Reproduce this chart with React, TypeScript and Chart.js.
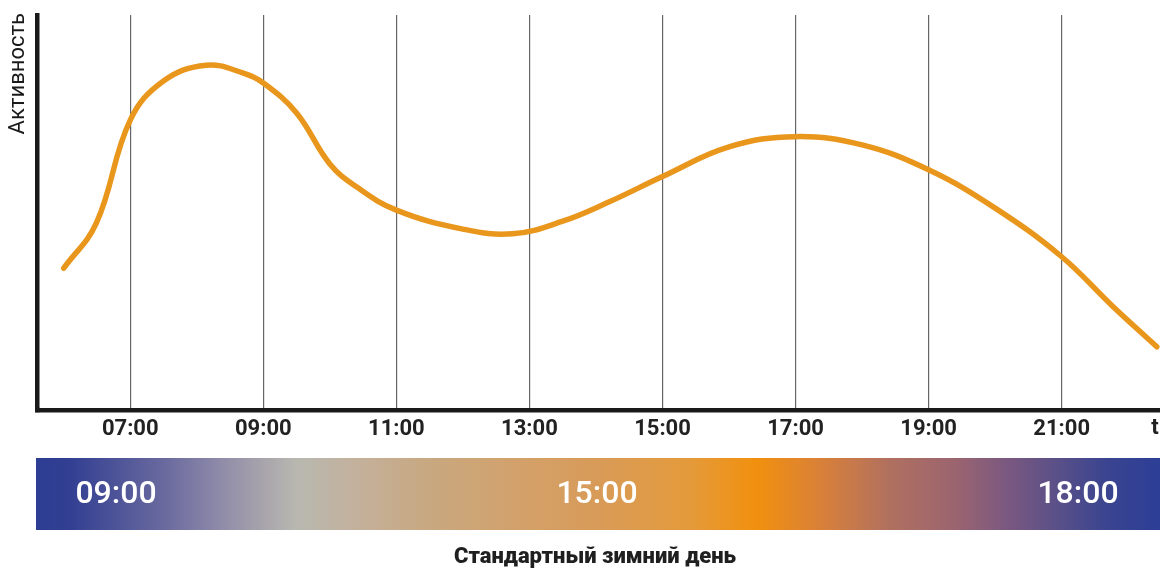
import React, { useEffect, useRef } from 'react';
import { Chart, registerables } from 'chart.js';

Chart.register(...registerables);

// Activity curve (hour of day -> relative activity, 0..100)
const hours = [6.0, 6.49, 7.0, 7.5, 8.14, 8.7, 9.0, 9.5, 10.0, 10.4, 11.0, 12.0, 12.75, 13.5, 14.2, 15.0, 16.0, 17.0, 18.0, 19.0, 20.0, 21.0, 21.77, 22.43];
const activity = [35.9, 47.3, 73.4, 83.3, 87.3, 85.3, 82.8, 75.2, 62.3, 56.5, 50.6, 45.8, 44.6, 47.8, 52.7, 59.1, 66.6, 69.2, 67.1, 60.8, 51.1, 38.8, 26.2, 16.0];
const tickHours = [7, 9, 11, 13, 15, 17, 19, 21];
const bandLabels = ['09:00', '15:00', '18:00'];
const yTitle = 'Активность';
const xUnit = 't';
const caption = 'Стандартный зимний день';

const X_MIN = 5.606;
const X_MAX = 22.478;

const fmt = (v: number) => `${v < 10 ? '0' : ''}${v}:00`;

const gradientStops: [number, string][] = [
  [0.0, '#2C3D93'],
  [0.03, '#323F92'],
  [0.115, '#6A6A9E'],
  [0.157, '#8A86A8'],
  [0.202, '#A8A4AC'],
  [0.232, '#B8B8B0'],
  [0.29, '#C4B09A'],
  [0.35, '#C8A880'],
  [0.44, '#D4A068'],
  [0.50, '#D89B58'],
  [0.582, '#E49A3A'],
  [0.641, '#F1900E'],
  [0.70, '#D8803A'],
  [0.76, '#B07060'],
  [0.82, '#9A6470'],
  [0.864, '#7A5880'],
  [0.908, '#5A5088'],
  [0.953, '#3A4490'],
  [1.0, '#2C3E96'],
];

const decorPlugin = {
  id: 'decor',
  afterDraw(chart: any) {
    const { ctx, chartArea } = chart;
    const { left, right, bottom, top } = chartArea;
    ctx.save();
    // corner fill for axis joint
    ctx.fillStyle = '#1a1a1a';
    ctx.fillRect(left - 2.25, bottom - 2.25, 4.5, 4.5);

    // y axis title (rotated)
    ctx.save();
    ctx.translate(18, top - 2);
    ctx.rotate(-Math.PI / 2);
    ctx.font = '400 22px Roboto, "Noto Sans", sans-serif';
    ctx.fillStyle = '#1a1a1a';
    ctx.textAlign = 'right';
    ctx.textBaseline = 'middle';
    ctx.fillText(yTitle, 0, 0);
    ctx.restore();

    // x unit label
    ctx.font = '700 22px Roboto, "Noto Sans", sans-serif';
    ctx.fillStyle = '#222';
    ctx.textAlign = 'center';
    ctx.textBaseline = 'middle';
    ctx.fillText(xUnit, right - 5, bottom + 18);

    // gradient band
    const bx0 = left - 1.5;
    const bx1 = right;
    const by0 = 458;
    const by1 = 530;
    const g = ctx.createLinearGradient(bx0, 0, bx1, 0);
    gradientStops.forEach(([o, c]) => g.addColorStop(o, c));
    ctx.fillStyle = g;
    ctx.fillRect(bx0, by0, bx1 - bx0, by1 - by0);

    // band labels
    const bandX = [116, 597, 1078];
    ctx.font = '500 32px Roboto, "Noto Sans", sans-serif';
    ctx.fillStyle = '#ffffff';
    ctx.textAlign = 'center';
    ctx.textBaseline = 'middle';
    bandLabels.forEach((t, i) => ctx.fillText(t, bandX[i], (by0 + by1) / 2 + 1));

    // caption
    ctx.font = '900 22px Roboto, "Noto Sans", sans-serif';
    ctx.fillStyle = '#1f1f1f';
    ctx.fillText(caption, 595, 557);
    ctx.restore();
  },
};

export default function App() {
  const ref = useRef<HTMLCanvasElement | null>(null);
  useEffect(() => {
    if (!ref.current) return;
    const chart = new Chart(ref.current, {
      type: 'line',
      data: {
        datasets: [
          {
            data: hours.map((h, i) => ({ x: h, y: activity[i] })),
            borderColor: '#E9961C',
            borderWidth: 5.5,
            borderCapStyle: 'round',
            borderJoinStyle: 'round',
            pointRadius: 0,
            tension: 0.4,
            fill: false,
          },
        ],
      },
      options: {
        animation: false,
        responsive: true,
        maintainAspectRatio: false,
        layout: { padding: { top: 15, left: 37.5, right: 0, bottom: 0 } },
        plugins: { legend: { display: false }, tooltip: { enabled: false } },
        scales: {
          x: {
            type: 'linear',
            min: X_MIN,
            max: X_MAX,
            afterBuildTicks: (scale: any) => {
              scale.ticks = tickHours.map((v) => ({ value: v }));
            },
            afterFit: (scale: any) => {
              scale.height = 163;
            },
            ticks: {
              autoSkip: false,
              maxRotation: 0,
              padding: 6,
              color: '#222',
              font: { family: 'Roboto, "Noto Sans", sans-serif', size: 22, weight: 'bold' },
              callback: (v: any) => fmt(Number(v)),
            },
            grid: { color: '#666', lineWidth: 1.2, drawTicks: false },
            border: { display: true, color: '#1a1a1a', width: 4.5 },
          },
          y: {
            min: 0,
            max: 100,
            afterFit: (scale: any) => {
              scale.width = 0;
            },
            ticks: { display: false },
            grid: { display: false },
            border: { display: true, color: '#1a1a1a', width: 4.5 },
          },
        },
      },
      plugins: [decorPlugin],
    } as any);
    return () => chart.destroy();
  }, []);
  return (
    <div style={{ position: 'fixed', left: 0, top: 0, width: 1160, height: 573, background: '#fff' }}>
      <canvas ref={ref} />
    </div>
  );
}
